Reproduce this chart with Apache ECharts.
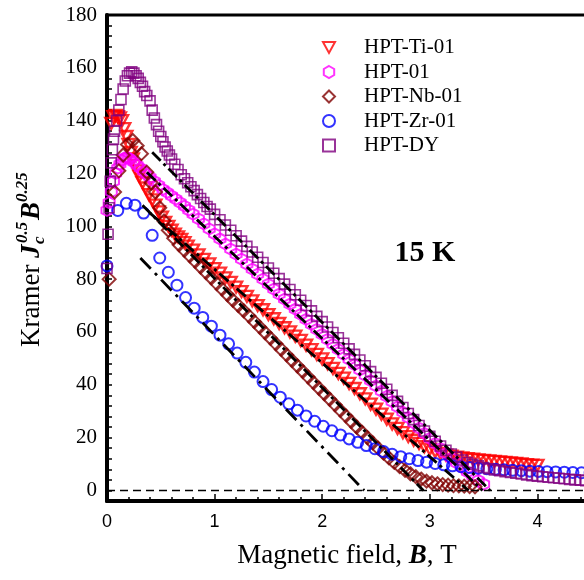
<!DOCTYPE html>
<html>
<head>
<meta charset="utf-8">
<script src="https://cdn.jsdelivr.net/npm/echarts@6/dist/echarts.min.js"></script>
<style>
  html, body { margin: 0; padding: 0; overflow: hidden; background: #fff; width: 584px; height: 580px; }
  #chart { width: 700px; height: 580px; }
</style>
</head>
<body>
<div id="chart"></div>
<script>
// Kramer plot at 15 K: [B (T), Jc^0.5 * B^0.25]
const tiData = [[0.04,139],[0.06,141.5],[0.08,142],[0.10,141.5],[0.12,141],[0.14,140],[0.16,137],[0.18,134],[0.20,131],[0.22,128],[0.24,125.5],[0.26,123],[0.28,121],[0.30,119],
  [0.33,116.5],[0.36,114.5],[0.39,112],[0.42,110],[0.45,108],[0.48,105.5],[0.51,103.5],[0.54,101.5],[0.57,100],[0.60,98.5],[0.63,97],[0.66,96],[0.69,95],[0.72,93.8],[0.75,92.5],
  [0.80,91],[0.85,89.2],[0.90,87.5],[0.95,85.8],[1.00,84],[1.05,82.3],[1.10,80.5],[1.15,78.8],[1.20,77],[1.25,75.3],[1.30,73.5],[1.35,71.8],[1.40,70],[1.45,68.4],[1.50,66.6],
  [1.55,65],[1.60,63.2],[1.65,61.6],[1.70,60],[1.75,58.4],[1.80,56.8],[1.85,55],[1.90,53.3],[1.95,51.5],[2.00,49.8],[2.05,48],[2.10,46.2],[2.15,44.3],[2.20,42.5],[2.25,40.5],
  [2.30,38.6],[2.35,36.6],[2.40,34.7],[2.45,32.7],[2.50,30.8],[2.55,28.9],[2.60,27],[2.65,25.2],[2.70,23.5],[2.75,21.9],[2.80,20.4],[2.85,19],[2.90,17.8],[2.95,16.6],[3.00,15.6],
  [3.05,14.7],[3.10,14],[3.15,13.4],[3.20,13],[3.25,12.6],[3.30,12.3],[3.35,12],[3.40,11.8],[3.45,11.6],[3.50,11.4],[3.55,11.2],[3.60,11],[3.65,10.8],[3.70,10.6],[3.75,10.4],
  [3.80,10.2],[3.85,10],[3.90,9.8],[3.95,9.6],[4.00,9.5]];

const pureData = [[0,106],[0.02,109],[0.04,113],[0.06,117],[0.08,120],[0.10,122],[0.12,123.5],[0.14,125],[0.16,125.8],[0.18,126],[0.20,125.8],[0.22,125.3],[0.25,124.3],[0.28,123.2],
  [0.31,122],[0.34,120.8],[0.37,119.6],[0.40,118.5],[0.44,117],[0.48,115.5],[0.52,114],[0.56,112.8],[0.60,111.5],[0.64,110.3],[0.68,109],[0.72,107.6],[0.76,106.1],[0.80,104.6],
  [0.85,102.8],[0.90,100.9],[0.95,99],[1.00,97.1],[1.05,95.2],[1.10,93.3],[1.15,91.4],[1.20,89.5],[1.25,87.6],[1.30,85.7],[1.35,83.8],[1.40,81.9],[1.45,80],[1.50,78.1],
  [1.55,76.2],[1.60,74.3],[1.65,72.4],[1.70,70.5],[1.75,68.6],[1.80,66.7],[1.85,64.8],[1.90,62.9],[1.95,61],[2.00,59.1],[2.05,57.2],[2.10,55.3],[2.15,53.4],[2.20,51.5],
  [2.25,49.6],[2.30,47.6],[2.35,45.6],[2.40,43.6],[2.45,41.6],[2.50,39.6],[2.55,37.6],[2.60,35.6],[2.65,33.6],[2.70,31.6],[2.75,29.6],[2.80,27.6],[2.85,25.6],[2.90,23.6],
  [2.95,21.6],[3.00,19.7],[3.05,17.8],[3.10,15.9],[3.15,14],[3.20,12.2],[3.25,10.4],[3.30,8.7],[3.35,7],[3.40,5.4],[3.45,3.8],[3.50,2.4]];

const nbData = [[0.02,80],[0.07,113],[0.11,121],[0.15,127],[0.19,131],[0.24,132.5],[0.28,130.5],[0.32,127.5],[0.37,120.5],[0.41,116.5],[0.45,113],[0.49,107],[0.53,102],
  [0.57,98.5],[0.62,95.5],[0.67,93],[0.72,90.9],[0.77,88.8],[0.82,86.7],[0.87,84.6],[0.92,82.5],[0.97,80.4],[1.02,78.3],[1.07,76.2],[1.12,74.1],[1.17,72],[1.22,70],[1.27,68],
  [1.32,66],[1.37,63.9],[1.42,61.8],[1.47,59.7],[1.52,57.6],[1.57,55.5],[1.62,53.4],[1.67,51.3],[1.72,49.2],[1.77,47.1],[1.82,45],[1.87,42.9],[1.92,40.8],[1.97,38.7],[2.02,36.6],
  [2.07,34.5],[2.12,32.4],[2.17,30.3],[2.22,28.2],[2.27,26.1],[2.32,24],[2.37,22],[2.42,20],[2.47,18],[2.52,16],[2.57,14.1],[2.62,12.3],[2.67,10.6],[2.72,9],[2.77,7.6],
  [2.82,6.3],[2.87,5.2],[2.92,4.3],[2.97,3.5],[3.02,2.9],[3.07,2.5],[3.12,2.2],[3.17,2],[3.22,1.8],[3.27,1.7],[3.32,1.6],[3.37,1.5],[3.42,1.4]];

const zrData = [[0,85],[0.10,106],[0.18,108.7],[0.26,108],[0.34,105],[0.42,96.6],[0.49,88],[0.57,82.6],[0.65,77.7],[0.73,73],[0.81,69],[0.89,65.5],[0.97,62.2],[1.05,58.8],
  [1.13,55.5],[1.21,52],[1.29,48.5],[1.37,44.8],[1.45,41.2],[1.53,38.2],[1.61,35.3],[1.69,32.8],[1.77,30.4],[1.85,28.2],[1.93,26.2],[2.01,24.3],[2.09,22.6],[2.17,21],[2.25,19.5],
  [2.33,18.2],[2.41,17],[2.49,15.8],[2.57,14.7],[2.65,13.7],[2.73,12.8],[2.81,12],[2.89,11.3],[2.97,10.7],[3.05,10.2],[3.13,9.7],[3.21,9.3],[3.29,9],[3.37,8.7],[3.45,8.4],
  [3.53,8.2],[3.61,8],[3.69,7.8],[3.77,7.6],[3.85,7.5],[3.93,7.3],[4.01,7.2],[4.09,7.1],[4.17,7],[4.25,6.9],[4.33,6.8],[4.41,6.7],[4.49,6.6],[4.57,6.5]];

const dyData = [[0,84],[0.01,97],[0.02,107],[0.03,117],[0.04,124],[0.05,129],[0.06,133],[0.07,136],[0.09,140],[0.11,144],[0.13,148],[0.15,152],[0.17,155],[0.19,157],[0.21,158],
  [0.23,158.5],[0.25,158],[0.27,157],[0.29,156],[0.31,154.5],[0.33,153],[0.35,151],[0.37,149.5],[0.40,147.5],[0.42,144],[0.44,141],[0.46,138.5],[0.48,136],[0.50,134],[0.52,132],
  [0.54,130],[0.56,128.5],[0.58,127],[0.60,125.5],[0.63,123.5],[0.66,121.5],[0.69,119.5],[0.72,118],[0.75,116.5],[0.78,115],[0.81,113.5],[0.84,112],[0.87,110.5],[0.90,109],
  [0.93,107.5],[0.96,106.5],[1.00,104.5],[1.05,102.5],[1.10,100.5],[1.15,98.5],[1.20,96.4],[1.25,94.4],[1.30,92.4],[1.35,90.3],[1.40,88.3],[1.45,86.3],[1.50,84.2],[1.55,82.2],
  [1.60,80.2],[1.65,78.1],[1.70,76.1],[1.75,74.1],[1.80,72],[1.85,70],[1.90,68],[1.95,65.9],[2.00,63.9],[2.05,61.9],[2.10,59.8],[2.15,57.8],[2.20,55.7],[2.25,53.6],[2.30,51.5],
  [2.35,49.4],[2.40,47.2],[2.45,45],[2.50,42.8],[2.55,40.6],[2.60,38.3],[2.65,36],[2.70,33.7],[2.75,31.4],[2.80,29.1],[2.85,26.8],[2.90,24.6],[2.95,22.5],[3.00,20.5],[3.05,18.6],
  [3.10,16.8],[3.15,15.2],[3.20,13.8],[3.25,12.6],[3.30,11.5],[3.35,10.6],[3.40,9.9],[3.45,9.3],[3.50,8.7],[3.55,8.2],[3.60,7.8],[3.65,7.5],[3.70,7.1],[3.75,6.8],[3.80,6.5],
  [3.85,6.2],[3.90,5.9],[3.95,5.6],[4.00,5.4],[4.05,5.2],[4.10,5],[4.15,4.8],[4.20,4.6],[4.25,4.4],[4.30,4.2],[4.35,4],[4.40,3.9],[4.45,3.7],[4.50,3.6],[4.55,3.5],[4.60,3.4]];

// Linear Kramer extrapolations to the irreversibility field
const fitTi = [[0.40,105],[3.36,0]];
const fitPure = [[0.37,120.5],[3.49,0]];
const fitNb = [[0.33,108],[2.94,0]];
const fitZr = [[0.31,88],[2.39,0]];
const fitDY = [[0.42,128],[3.56,0]];
const zeroLine = [[0,0],[5,0]];

const seriesNames = ['HPT-Ti-01', 'HPT-01', 'HPT-Nb-01', 'HPT-Zr-01', 'HPT-DY'];
const yTicks = [0, 20, 40, 60, 80, 100, 120, 140, 160, 180];

const serif = "'Liberation Serif','Times New Roman',serif";
const sans = "'Liberation Sans',Arial,sans-serif";
const triDown = 'path://M0,0L10,0L5,9Z';
const hexagon = 'path://M0,-1L0.866,-0.5L0.866,0.5L0,1L-0.866,0.5L-0.866,-0.5Z';

const hollow = (c, w) => ({ color: 'rgba(255,255,255,0)', borderColor: c, borderWidth: w });
function scatter(name, data, symbol, size, color, bw) {
  return { type: 'scatter', name, data, symbol, symbolSize: size, itemStyle: hollow(color, bw),
           silent: true, z: 2, emphasis: { disabled: true } };
}
function fitLine(data, dash) {
  return { type: 'line', data, symbol: 'none', silent: true, z: 5,
           lineStyle: { color: '#000', width: 2.8, type: dash } };
}

const chart = echarts.init(document.getElementById('chart'));
chart.setOption({
  animation: false,
  backgroundColor: '#fff',
  grid: { left: 107, right: 55, top: 15, bottom: 79, show: true, borderColor: '#000', borderWidth: 3, backgroundColor: 'transparent' },
  legend: {
    left: 322, top: 37, orient: 'vertical', itemWidth: 12, itemHeight: 12, itemGap: 3.5, padding: 0,
    selectedMode: false,
    textStyle: { fontFamily: serif, fontSize: 21, color: '#000', lineHeight: 21, padding: [0, 0, 0, 24] },
    data: seriesNames
  },
  xAxis: {
    type: 'value', min: 0, max: 5, interval: 1,
    axisLine: { show: true, onZero: false, lineStyle: { color: '#000', width: 4 } },
    axisTick: { show: true, inside: true, length: 7, lineStyle: { color: '#000', width: 1.5 } },
    minorTick: { show: true, splitNumber: 5, length: 4, lineStyle: { color: '#000', width: 1.5 } },
    axisLabel: { color: '#000', fontFamily: sans, fontSize: 18, margin: 12 },
    splitLine: { show: false }
  },
  yAxis: {
    type: 'value', min: -4, max: 180, interval: 4,
    axisLine: { show: true, onZero: false, lineStyle: { color: '#000', width: 4 } },
    axisTick: { show: true, inside: true, length: 5, lineStyle: { color: '#000', width: 1.5 } },
    axisLabel: { color: '#000', fontFamily: serif, fontSize: 21, margin: 10,
                 formatter: v => (yTicks.indexOf(v) >= 0 ? String(v) : '') },
    splitLine: { show: false }
  },
  series: [
    scatter('HPT-Ti-01', tiData, triDown, [12, 11], '#ff0000', 2.4),
    scatter('HPT-01', pureData, hexagon, 11, '#ff00ff', 2),
    scatter('HPT-Nb-01', nbData, 'diamond', 13, '#800000', 2),
    scatter('HPT-Zr-01', zrData, 'circle', 11, '#0000ff', 2),
    scatter('HPT-DY', dyData, 'rect', 10, '#800080', 1.6),
    fitLine(fitTi, [12, 4, 3, 4]),
    fitLine(fitPure, [12, 4, 3, 4]),
    fitLine(fitNb, [12, 4, 3, 4]),
    fitLine(fitZr, [15, 6, 3, 6]),
    fitLine(fitDY, [12, 4, 3, 4]),
    { type: 'line', data: zeroLine, symbol: 'none', silent: true, z: 4,
      lineStyle: { color: '#000', width: 1.6, type: [8, 5] } }
  ],
  graphic: [
    { type: 'text', x: 425, y: 253, z: 10,
      style: { text: '15 K', fill: '#000', fontFamily: serif, fontSize: 30, fontWeight: 'bold',
               align: 'center', verticalAlign: 'middle', textAlign: 'center', textVerticalAlign: 'middle' } },
    { type: 'text', x: 347, y: 556, z: 10,
      style: { text: 'Magnetic field, {b|B}, T', fill: '#000', fontFamily: serif, fontSize: 27,
               align: 'center', verticalAlign: 'middle', textAlign: 'center', textVerticalAlign: 'middle',
               rich: { b: { fontFamily: serif, fontSize: 27, fontWeight: 'bold', fontStyle: 'italic', fill: '#000' } } } },
    { type: 'group', x: 32, y: 257, rotation: Math.PI / 2, z: 10,
      children: [
        { type: 'text', x: -90, y: 0, style: { text: 'Kramer', fill: '#000', fontFamily: serif, fontSize: 27, align: 'left', verticalAlign: 'middle' } },
        { type: 'text', x: -1, y: 0, style: { text: 'J', fill: '#000', fontFamily: serif, fontSize: 27, fontWeight: 'bold', fontStyle: 'italic', align: 'left', verticalAlign: 'middle' } },
        { type: 'text', x: 13, y: 8, style: { text: 'c', fill: '#000', fontFamily: serif, fontSize: 17, fontWeight: 'bold', fontStyle: 'italic', align: 'left', verticalAlign: 'middle' } },
        { type: 'text', x: 14, y: -9, style: { text: '0.5', fill: '#000', fontFamily: serif, fontSize: 17, fontWeight: 'bold', fontStyle: 'italic', align: 'left', verticalAlign: 'middle' } },
        { type: 'text', x: 37, y: 0, style: { text: 'B', fill: '#000', fontFamily: serif, fontSize: 27, fontWeight: 'bold', fontStyle: 'italic', align: 'left', verticalAlign: 'middle' } },
        { type: 'text', x: 55, y: -9, style: { text: '0.25', fill: '#000', fontFamily: serif, fontSize: 17, fontWeight: 'bold', fontStyle: 'italic', align: 'left', verticalAlign: 'middle' } }
      ] }
  ]
});
</script>
</body>
</html>
